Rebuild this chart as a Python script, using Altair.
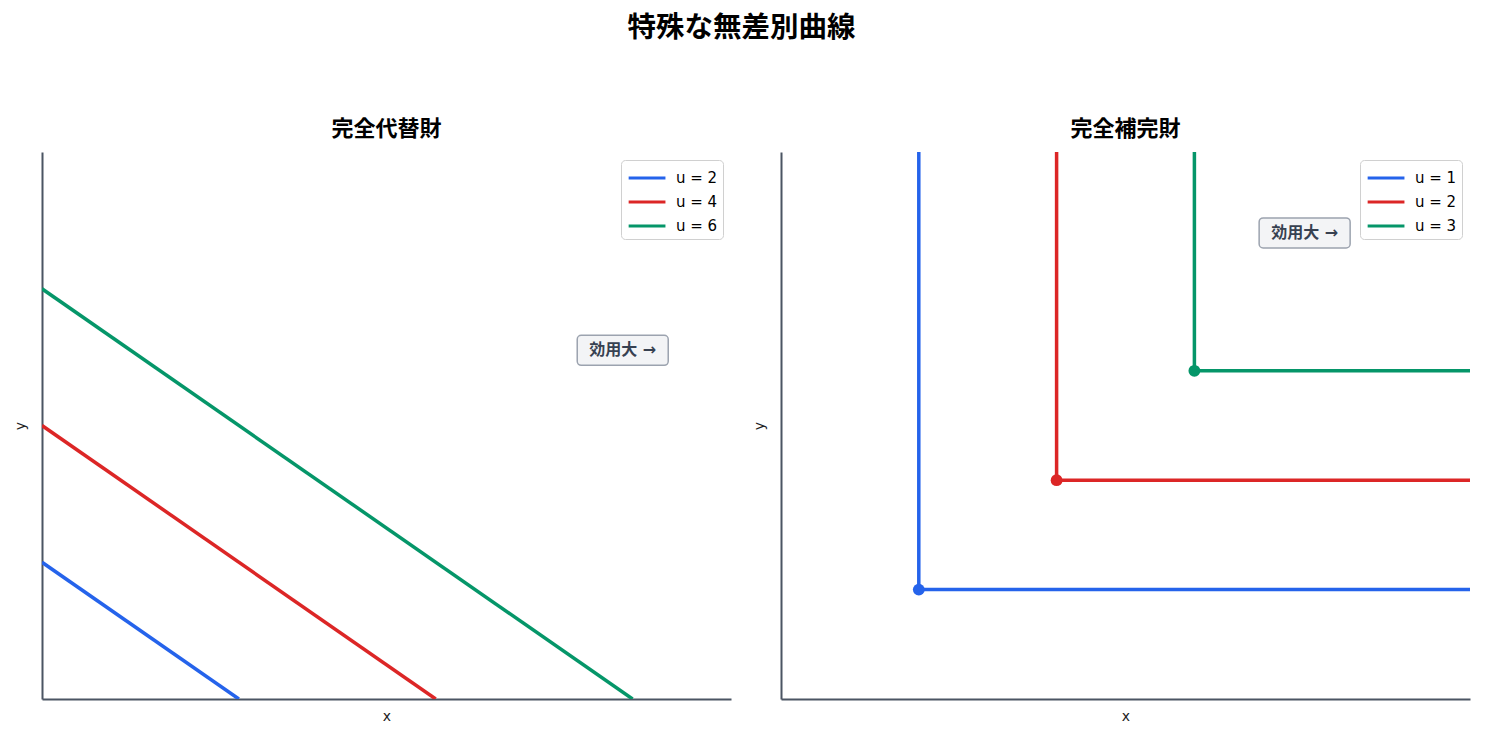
import altair as alt
import pandas as pd

# ---- data ----
sub_u = [2, 4, 6]
sub_labels = ["u = 2", "u = 4", "u = 6"]
comp_u = [1, 2, 3]
comp_labels = ["u = 1", "u = 2", "u = 3"]
colors = ["#2563eb", "#dc2626", "#059669"]

sub_xmax, sub_ymax = 7, 8
comp_max = 5

annot_text = "効用大 →"
annot_sub = [5.9, 5.1]
annot_comp = [3.8, 4.26]

# ---- tables ----
sub_rows = []
for u, lab in zip(sub_u, sub_labels):
    sub_rows.append({"x": 0, "y": u, "o": 0, "s": lab})
    sub_rows.append({"x": u, "y": 0, "o": 1, "s": lab})
sub_df = pd.DataFrame(sub_rows)

comp_rows = []
corner_rows = []
for u, lab in zip(comp_u, comp_labels):
    comp_rows.append({"x": u, "y": comp_max, "o": 0, "s": lab})
    comp_rows.append({"x": u, "y": u, "o": 1, "s": lab})
    comp_rows.append({"x": comp_max, "y": u, "o": 2, "s": lab})
    corner_rows.append({"x": u, "y": u, "s": lab})
comp_df = pd.DataFrame(comp_rows)
corner_df = pd.DataFrame(corner_rows)

W, H = 689, 547


def axes(xmax, ymax):
    xa = alt.X("x:Q", scale=alt.Scale(domain=[0, xmax], nice=False, zero=True),
               axis=alt.Axis(title="x", labels=False, ticks=False, grid=False, titlePadding=10))
    ya = alt.Y("y:Q", scale=alt.Scale(domain=[0, ymax], nice=False, zero=True),
               axis=alt.Axis(title="y", labels=False, ticks=False, grid=False, titlePadding=15))
    return xa, ya


def legend():
    return alt.Legend(title=None, orient="top-right", offset=8,
                      symbolType="M-0.9,0H2.3", symbolStrokeWidth=3, symbolSize=529,
                      symbolFillColor="transparent",
                      labelFontSize=15, labelFont="DejaVu Sans",
                      strokeColor="#d0d0d0", fillColor="white",
                      cornerRadius=4, padding=5, rowPadding=3, labelOffset=24)


def annotation(pos):
    adf = pd.DataFrame({"x": [pos[0]], "y": [pos[1]], "t": [annot_text]})
    box = alt.Chart(adf).mark_rect(width=91, height=30, cornerRadius=4, fill="#f3f4f6",
                                   stroke="#9ca3af", strokeWidth=1.5).encode(x="x:Q", y="y:Q")
    txt = alt.Chart(adf).mark_text(font="DejaVu Sans, Noto Sans CJK JP", fontSize=16,
                                   fontWeight="bold", color="#374151").encode(
        x="x:Q", y="y:Q", text="t:N")
    return box + txt


# ---- left: perfect substitutes ----
xa, ya = axes(sub_xmax, sub_ymax)
left_lines = alt.Chart(sub_df).mark_line(strokeWidth=3.5, clip=True).encode(
    x=xa, y=ya, order="o:Q",
    color=alt.Color("s:N", scale=alt.Scale(domain=sub_labels, range=colors), legend=legend()),
)
left = (left_lines + annotation(annot_sub)).properties(
    width=W, height=H,
    title=alt.TitleParams("完全代替財", font="Noto Sans CJK JP", fontSize=22, fontWeight="bold", offset=11),
)

# ---- right: perfect complements ----
xb, yb = axes(comp_max, comp_max)
right_lines = alt.Chart(comp_df).mark_line(strokeWidth=3.5, clip=True).encode(
    x=xb, y=yb, order="o:Q",
    color=alt.Color("s:N", scale=alt.Scale(domain=comp_labels, range=colors), legend=legend()),
)
right_pts = alt.Chart(corner_df).mark_point(filled=True, size=140, opacity=1).encode(
    x="x:Q", y="y:Q",
    color=alt.Color("s:N", scale=alt.Scale(domain=comp_labels, range=colors), legend=None),
)
right = (right_lines + right_pts + annotation(annot_comp)).properties(
    width=W, height=H,
    title=alt.TitleParams("完全補完財", font="Noto Sans CJK JP", fontSize=22, fontWeight="bold", offset=11),
)

chart = alt.hconcat(left, right, spacing=21).resolve_scale(color="independent").properties(
    title=alt.TitleParams("特殊な無差別曲線", font="Noto Sans CJK JP", fontSize=28.5,
                          fontWeight="bold", anchor="middle", offset=76),
).configure_view(stroke=None).configure_axis(
    domainColor="#4b5563", domainWidth=2, titleFont="DejaVu Sans", titleFontSize=14,
    titleFontWeight="normal", titleColor="#222222",
)

chart.save("out.html", embed_options={"renderer": "svg", "actions": False})
